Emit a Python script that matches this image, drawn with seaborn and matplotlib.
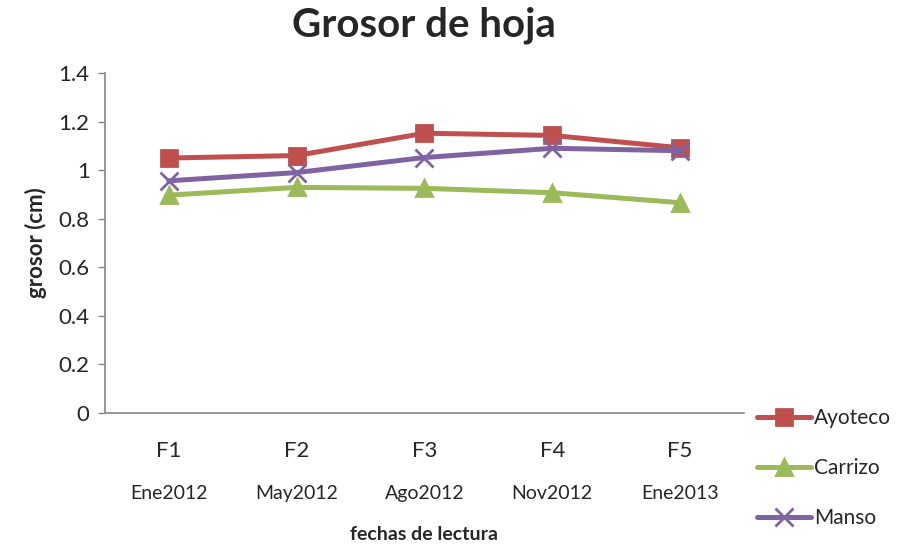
import matplotlib
matplotlib.use("Agg")
import matplotlib.pyplot as plt
import pandas as pd
import seaborn as sns

fechas = ["F1", "F2", "F3", "F4", "F5"]
meses = ["Ene2012", "May2012", "Ago2012", "Nov2012", "Ene2013"]
ayoteco = [1.05, 1.06, 1.152, 1.143, 1.092]
carrizo = [0.897, 0.929, 0.925, 0.907, 0.866]
manso = [0.956, 0.99, 1.052, 1.09, 1.08]

colores = {"Ayoteco": "#C0504D", "Carrizo": "#9BBB59", "Manso": "#8064A2"}
marcas = {"Ayoteco": "s", "Carrizo": "^", "Manso": "x"}


def main() -> None:
    series = {"Ayoteco": ayoteco, "Carrizo": carrizo, "Manso": manso}

    sns.set_theme(style="white")
    plt.rcParams["font.family"] = ["Lato", "DejaVu Sans"]

    fig = plt.figure(figsize=(9.04, 5.46), dpi=100)
    ax = fig.add_axes([0.116, 0.2436, 0.707, 0.6227])

    for nombre, valores in series.items():
        df = pd.DataFrame({"pos": range(len(fechas)), "grosor": valores})
        sns.lineplot(data=df, x="pos", y="grosor", color=colores[nombre],
                     marker=marcas[nombre], linewidth=3.6,
                     markersize=13 if nombre == "Manso" else 12,
                     markeredgewidth=2, markeredgecolor=colores[nombre],
                     markerfacecolor=colores[nombre], label=nombre, ax=ax,
                     legend=False)

    ax.set_xlim(-0.5, len(fechas) - 0.5)
    ax.set_ylim(0, 1.4)
    ax.set_yticks([0, 0.2, 0.4, 0.6, 0.8, 1.0, 1.2, 1.4])
    ax.set_yticklabels(["0", "0.2", "0.4", "0.6", "0.8", "1", "1.2", "1.4"], fontsize=16)
    ax.xaxis.remove_overlapping_locs = False
    ax.set_xticks(range(len(fechas)))
    ax.set_xticklabels(fechas, fontsize=16)
    ax.set_xticks(range(len(fechas)), minor=True)
    ax.set_xticklabels(meses, minor=True, fontsize=14)
    ax.tick_params(axis="x", which="major", length=0, pad=20)
    ax.tick_params(axis="x", which="minor", length=0, pad=52)
    ax.tick_params(axis="y", direction="out", length=5, width=1, color="#868686", left=True, pad=6)

    for side in ["top", "right"]:
        ax.spines[side].set_visible(False)
    for side in ["left", "bottom"]:
        ax.spines[side].set_color("#868686")
        ax.spines[side].set_linewidth(1.2)

    ax.set_xlabel("fechas de lectura", fontsize=14, fontweight="bold", labelpad=17)
    ax.set_ylabel("grosor (cm)", fontsize=16, fontweight="bold", labelpad=8)
    ax.set_title("Grosor de hoja", fontsize=29, fontweight="bold", pad=26)

    fig.legend(handles=ax.lines, labels=list(series), loc="upper left",
               bbox_to_anchor=(0.828, 0.268), frameon=False, fontsize=15,
               handlelength=2.6, handletextpad=0.15, labelspacing=1.45,
               borderaxespad=0)

    fig.savefig("out.png", dpi=100)
    plt.close(fig)


if __name__ == "__main__":
    main()
